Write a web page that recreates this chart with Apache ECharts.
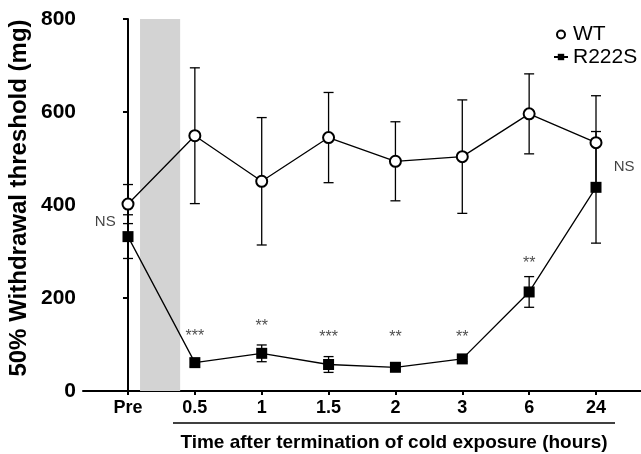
<!DOCTYPE html>
<html><head><meta charset="utf-8">
<script src="https://cdn.jsdelivr.net/npm/echarts@6/dist/echarts.min.js"></script>
<style>html,body{margin:0;padding:0;background:#fff}#c{width:641px;height:454px}</style>
</head><body><div id="c"></div>
<script>
const categories = ['Pre','0.5','1','1.5','2','3','6','24'];
const wtMean = [402,549,451,545,494,504,596,534];
const wtSem = [42,146,137,97,85,122,86,101];
const r222sMean = [332,61,81,57,51,69,213,438];
const r222sSem = [47,8,18,17,6,6,33,120];
const sigLabels = ['','***','**','***','**','**','**',''];
const sigValues = [null,116,138,115,115,115,275,null];
const nsNotes = [[-0.34,364],[7.42,482]];
const coldBand = [0.18,0.78];
const yTicks = [0,200,400,600,800];

const FONT = '"Liberation Sans", Arial, sans-serif';
const chart = echarts.init(document.getElementById('c'), null, {renderer:'canvas'});
const idx = categories.map((c,i)=>i);

function errRender(params, api){
  const i = api.value(0), m = api.value(1), s = api.value(2);
  const top = api.coord([i, m + s]);
  const bot = api.coord([i, m - s]);
  const hw = 5;
  const style = {stroke:'#000', lineWidth:1.3, fill:null};
  return {type:'group', children:[
    {type:'line', shape:{x1:top[0],y1:top[1],x2:bot[0],y2:bot[1]}, style:style},
    {type:'line', shape:{x1:top[0]-hw,y1:top[1],x2:top[0]+hw,y2:top[1]}, style:style},
    {type:'line', shape:{x1:bot[0]-hw,y1:bot[1],x2:bot[0]+hw,y2:bot[1]}, style:style}
  ]};
}

const option = {
  animation:false,
  backgroundColor:'#fff',
  grid:{left:83,right:0,top:19,bottom:63,containLabel:false},
  legend:{
    orient:'vertical', left:548, top:19, itemWidth:14, itemHeight:8, itemGap:1.5,
    textStyle:{fontSize:21, color:'#000', fontFamily:FONT},
    data:[{name:'WT', icon:'circle'},{name:'R222S'}]
  },
  xAxis:{
    type:'value', min:-0.673, max:7.673,
    axisLine:{lineStyle:{color:'#000', width:2}},
    axisTick:{show:true, customValues:idx, length:4, lineStyle:{color:'#000', width:2}},
    axisLabel:{customValues:idx, formatter:v=>categories[Math.round(v)], fontSize:18, fontWeight:'bold', color:'#000', margin:8, fontFamily:FONT},
    splitLine:{show:false}
  },
  yAxis:{
    type:'value', min:yTicks[0], max:yTicks[yTicks.length-1], interval:200,
    axisLine:{show:true, lineStyle:{color:'#000', width:2}},
    axisTick:{show:true, length:5, lineStyle:{color:'#000', width:2}},
    axisLabel:{fontSize:21, fontWeight:'bold', color:'#000', margin:7, fontFamily:FONT},
    splitLine:{show:false}
  },
  graphic:[
    {type:'text', x:19, y:198, rotation:Math.PI/2, style:{text:'50% Withdrawal threshold (mg)', font:'bold 24px '+FONT, fill:'#000', textAlign:'center', textVerticalAlign:'middle'}},
    {type:'line', shape:{x1:173,y1:423,x2:615,y2:423}, style:{stroke:'#000', lineWidth:1.5}},
    {type:'text', x:394, y:443, style:{text:'Time after termination of cold exposure (hours)', font:'bold 19px '+FONT, fill:'#000', textAlign:'center', textVerticalAlign:'middle'}}
  ],
  series:[
    {
      name:'band', type:'line', data:[], silent:true,
      markArea:{silent:true, itemStyle:{color:'#d3d3d3'}, data:[[{xAxis:coldBand[0]},{xAxis:coldBand[1]}]]}
    },
    {
      name:'WT err', type:'custom', renderItem:errRender, z:3, silent:true,
      encode:{x:0,y:1},
      data:idx.map(i=>[i, wtMean[i], wtSem[i]])
    },
    {
      name:'R222S err', type:'custom', renderItem:errRender, z:3, silent:true,
      encode:{x:0,y:1},
      data:idx.map(i=>[i, r222sMean[i], r222sSem[i]])
    },
    {
      name:'R222S', type:'line', z:4,
      data:idx.map(i=>[i, r222sMean[i]]),
      symbol:'rect', symbolSize:11,
      itemStyle:{color:'#000'},
      lineStyle:{color:'#000', width:1.3}
    },
    {
      name:'WT', type:'line', z:5,
      data:idx.map(i=>[i, wtMean[i]]),
      symbol:'circle', symbolSize:11,
      itemStyle:{color:'#fff', borderColor:'#000', borderWidth:2},
      lineStyle:{color:'#000', width:1.3}
    },
    {
      name:'sig', type:'scatter', symbolSize:0, silent:true, z:6,
      data:idx.filter(i=>sigValues[i]!==null).map(i=>({value:[i, sigValues[i]], label:{formatter:sigLabels[i]}})),
      label:{show:true, position:'inside', fontSize:16, color:'#222', fontFamily:FONT}
    },
    {
      name:'ns', type:'scatter', symbolSize:0, silent:true, z:6,
      data:nsNotes.map(p=>({value:p})),
      label:{show:true, position:'inside', formatter:'NS', fontSize:15, color:'#111', fontFamily:FONT}
    }
  ]
};
chart.setOption(option);
</script>
</body></html>
